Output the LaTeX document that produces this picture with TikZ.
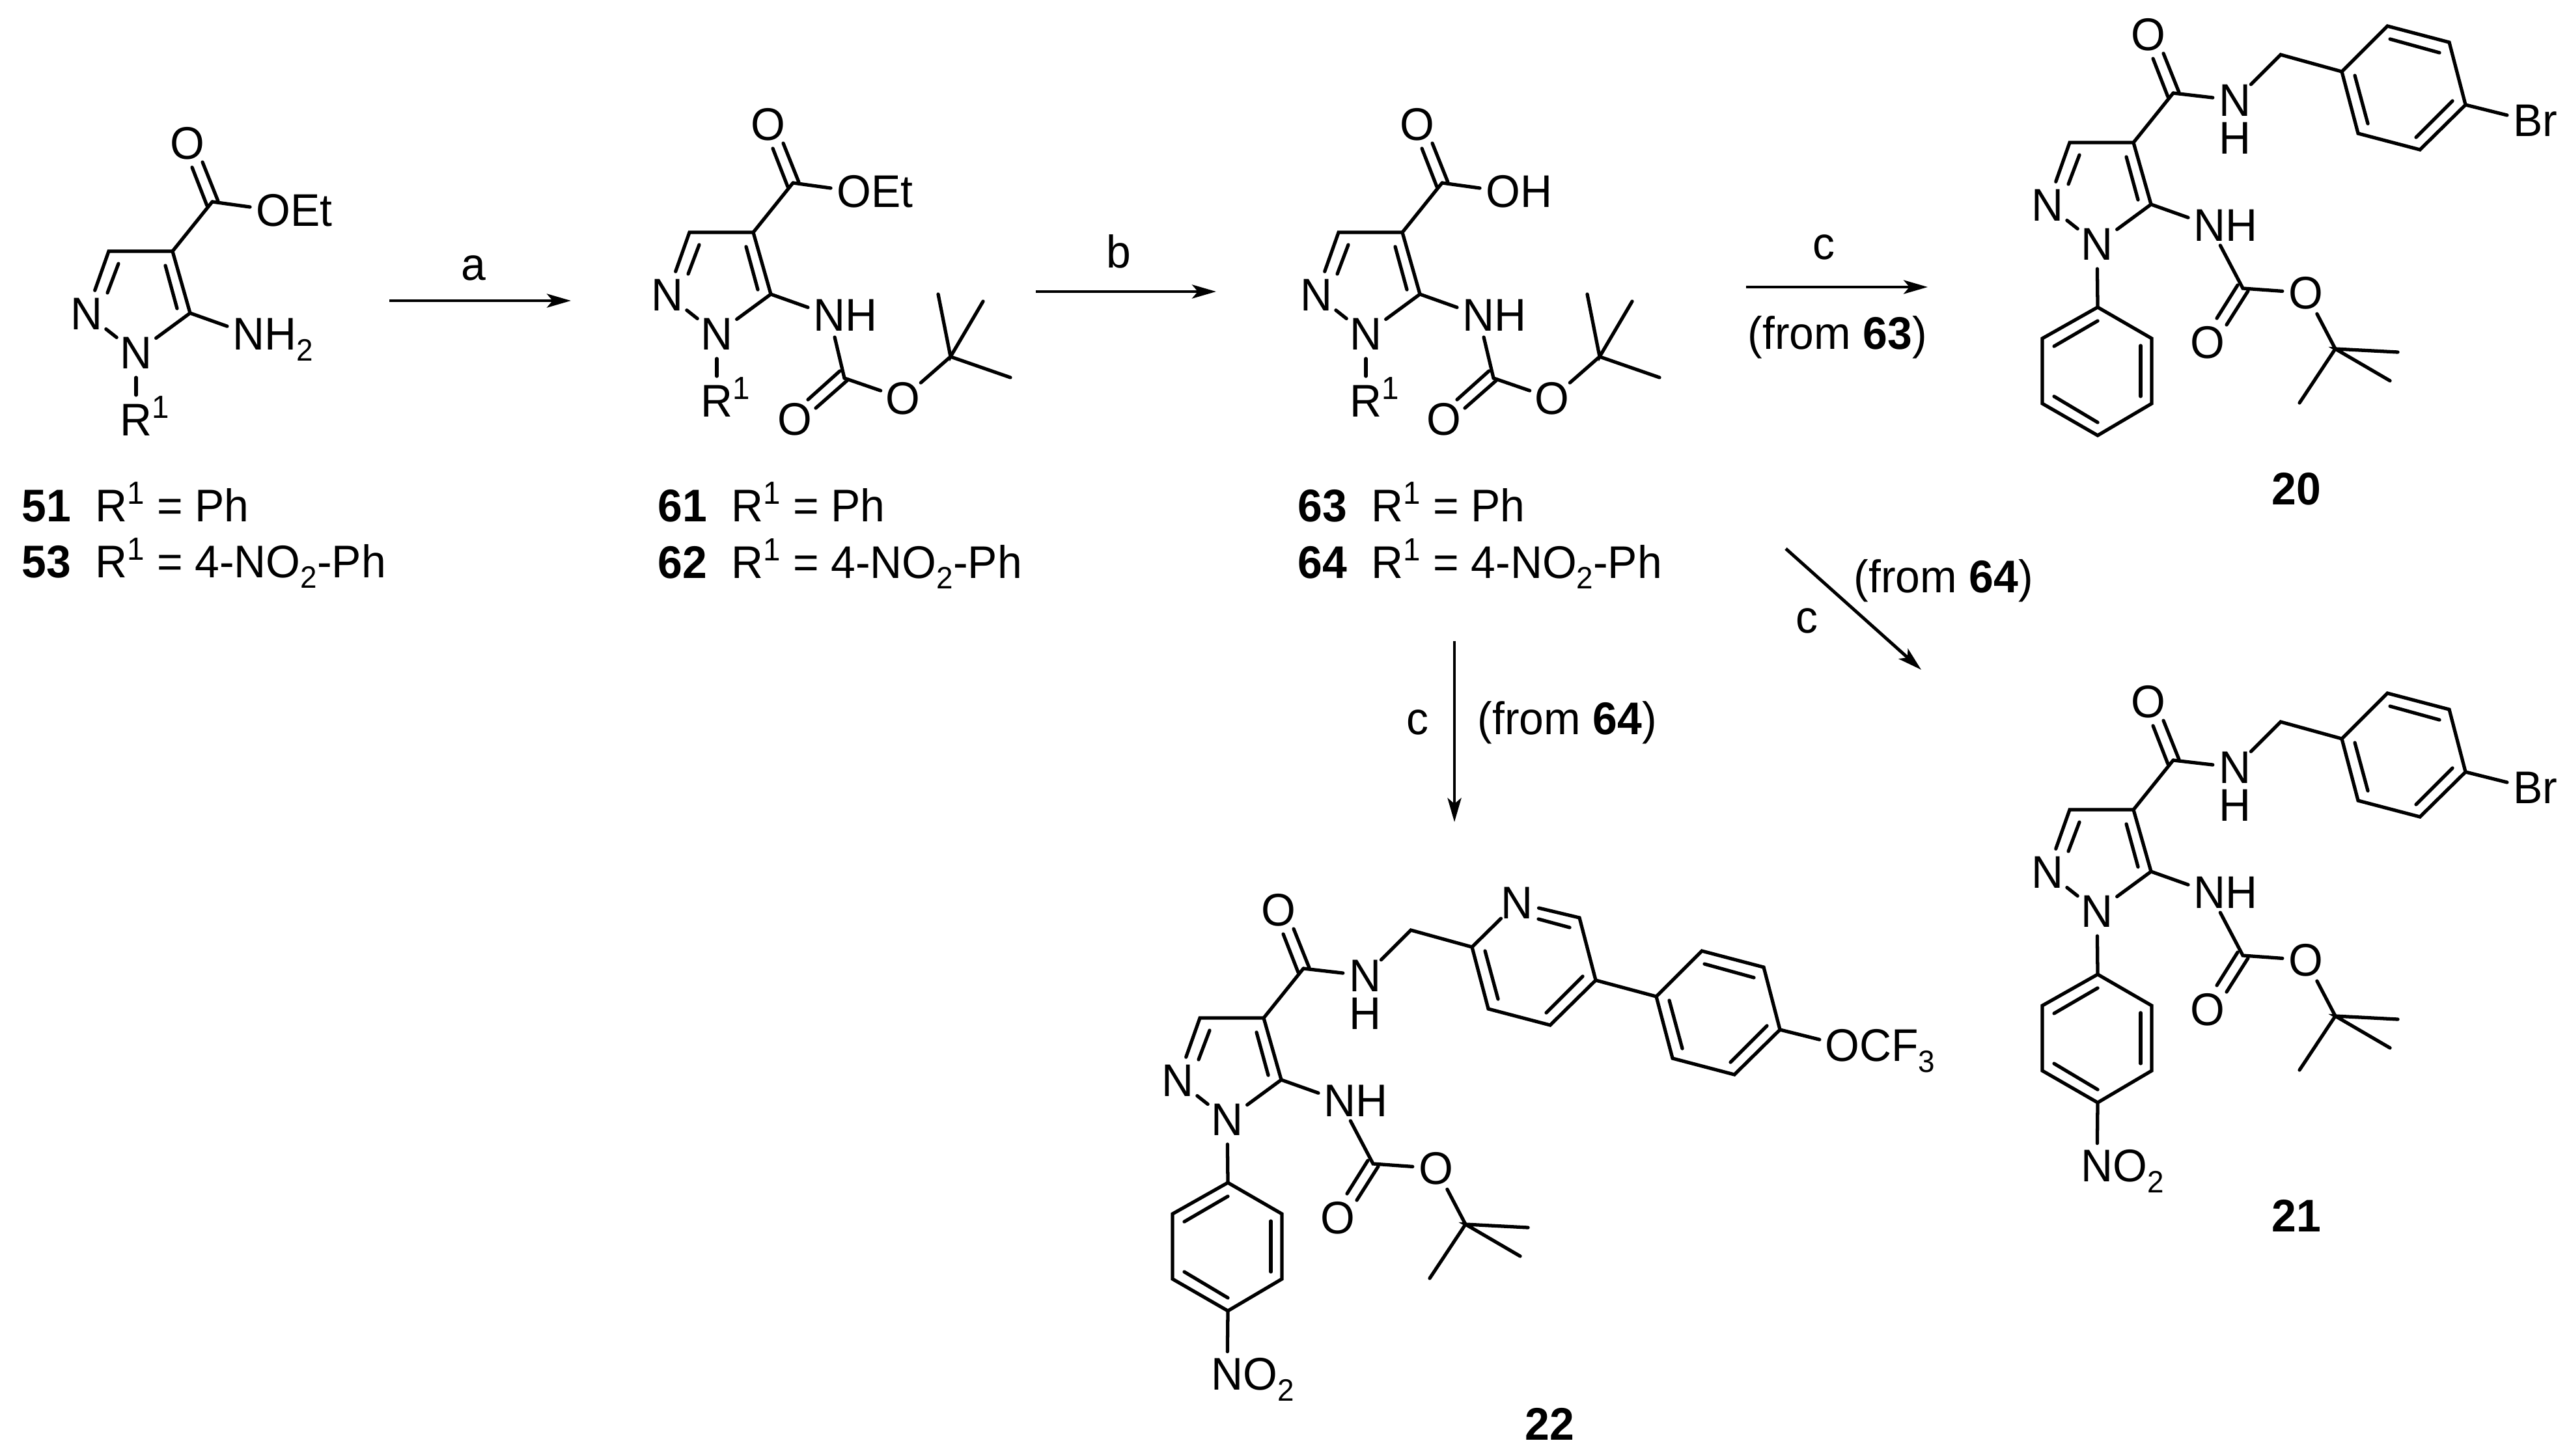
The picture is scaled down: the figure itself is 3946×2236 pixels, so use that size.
\documentclass[tikz,border=0pt]{standalone}
\usepackage{fontspec}
\setmainfont[FakeStretch=0.965]{Liberation Sans}
\usetikzlibrary{arrows.meta}
\newcommand\Sp[1]{\raisebox{7.5pt}{\fontsize{14}{14}\selectfont #1}}
\newcommand\Sb[1]{\raisebox{-4.8pt}{\fontsize{13.5}{13.5}\selectfont #1}}
\newcommand\Lead[2]{\sbox0{#1}\makebox[\wd0][l]{\vphantom{#1}\smash{#1#2}}}
\tikzset{
  bond/.style={line width=1.5pt,line cap=round,line join=miter},
  atom/.style={circle,inner sep=0pt,outer sep=0pt,minimum size=.76cm,font=\fontsize{20}{20}\selectfont},
  near/.style={atom,minimum size=.64cm},
  lab/.style={anchor=base west,inner sep=0pt,font=\fontsize{20}{20}\selectfont},
  cond/.style={anchor=base,inner sep=0pt,font=\fontsize{20}{20}\selectfont},
  rxn/.style={line width=1.4pt,-{Stealth[length=10.5pt,width=6pt,inset=2.5pt]}},
}
% pyrazole with ester/acid carbon
\newcommand\Pyz{%
  \coordinate (c3) at (167,386);
  \coordinate (c4) at (265,386);
  \coordinate (c5) at (292,481);
  \coordinate (cc) at (326,310);
  \node[atom] (n2) at (133,482) {N};
  \node[atom] (n1) at (209,542) {N};
  \node[atom] (ox) at (288,220) {O};
  \draw[bond] (n2)--(c3)--(c4)--(c5)--(n1)--(n2);
  \draw[bond] (c4)--(cc);
  \draw[bond] (182,405)--(165,450);
  \draw[bond] (254,408)--(272,474);
  \draw[bond] (295,257)--(318,316);
  \draw[bond] (311,249)--(335,309);
}
\newcommand\Rone{%
  \node[atom] (r1) at (209,645) {\Lead{R}{\Sp{1}}};
  \draw[bond] (n1)--(r1);
}
\newcommand\Ester[1]{%
  \node[near] (oe) at (420,323) {\Lead{O}{#1}};
  \draw[bond] (cc)--(oe);
}
\newcommand\Amine[1]{%
  \node[atom,minimum size=.70cm] (nh) at (382,513) {\Lead{N}{#1}};
  \draw[bond] (c5)--(nh);
}
\newcommand\BocA{%
  \coordinate (bc) at (405,610);
  \coordinate (tb) at (568,577);
  \coordinate (m1) at (549,481);
  \coordinate (m2) at (618,492);
  \coordinate (m3) at (660,609);
  \node[atom,minimum size=.72cm] (bo1) at (329,673) {O};
  \node[atom,minimum size=.72cm] (bo2) at (495,641) {O};
  \draw[bond] (nh)--(bc)--(bo2)--(tb);
  \draw[bond] (m1)--(tb)--(m2);
  \draw[bond] (tb)--(m3);
  \draw[bond] (349,643)--(398,599);
  \draw[bond] (361,656)--(411,612);
}
\newcommand\BocB{%
  \coordinate (bc) at (433,610);
  \coordinate (tb) at (575,703);
  \coordinate (m1) at (671,708);
  \coordinate (m2) at (659,752);
  \coordinate (m3) at (520,786);
  \node[atom,minimum size=.72cm] (bo1) at (379,693) {O};
  \node[atom,minimum size=.72cm] (bo2) at (530,617) {O};
  \draw[bond] (nh)--(bc)--(bo2)--(tb);
  \draw[bond] (m1)--(tb)--(m2);
  \draw[bond] (tb)--(m3);
  \draw[bond] (425,605)--(393,656);
  \draw[bond] (441,614)--(408,666);
}
\newcommand\ArN{%
  \coordinate (a1) at (210,639);
  \coordinate (a2) at (293,687);
  \coordinate (a3) at (293,787);
  \coordinate (a4) at (210,836);
  \coordinate (a5) at (125,787);
  \coordinate (a6) at (125,687);
  \draw[bond] (n1)--(a1);
  \draw[bond] (a1)--(a2)--(a3)--(a4)--(a5)--(a6)--cycle;
  \draw[bond] (210,660)--(143,699);
  \draw[bond] (276,698)--(276,776);
  \draw[bond] (210,816)--(143,776);
}
\newcommand\Nitro{%
  \node[near] (no) at (209,933) {\Lead{N}{O\Sb{2}}};
  \draw[bond] (a4)--(no);
}
\newcommand\Amide{%
  \node[atom,minimum size=.66cm] (am) at (421,321) {N};
  \node[atom,minimum size=.40cm] (amh) at (421,379) {H};
  \coordinate (ch) at (491,251);
  \coordinate (h1) at (585,277);
  \draw[bond] (cc)--(am)--(ch)--(h1);
}
\newcommand\Hexa{%
  \coordinate (h1) at (585,277);
  \coordinate (h2) at (655,207);
  \coordinate (h3) at (750,232);
  \coordinate (h4) at (775,328);
  \coordinate (h5) at (705,397);
  \coordinate (h6) at (610,372);
  \draw[bond] (h1)--(h2)--(h3)--(h4)--(h5)--(h6)--cycle;
  \draw[bond] (659,227)--(735,248);
  \draw[bond] (605,283)--(625,357);
  \draw[bond] (755,322)--(699,378);
}
\newcommand\Hbr[1]{%
  \node[atom,minimum size=.66cm] (xs) at (871,352) {#1};
  \draw[bond] (h4)--(xs);
}
\begin{document}
\begin{tikzpicture}[x=0.01cm,y=-0.01cm]
\useasboundingbox (0,0) rectangle (3946,2236);
% 51
\begin{scope}[name prefix=m51-]
  \Pyz \Rone \Ester{Et} \Amine{H\Sb{2}}
\end{scope}
% 61
\begin{scope}[shift={(892,-29)},name prefix=m61-]
  \Pyz \Rone \Ester{Et} \Amine{H} \BocA
\end{scope}
% 63
\begin{scope}[shift={(1889,-29)},name prefix=m63-]
  \Pyz \Rone \Ester{H} \Amine{H} \BocA
\end{scope}
% 20
\begin{scope}[shift={(3012,-167)},name prefix=m20-]
  \Pyz \Amine{H} \BocB \ArN \Amide \Hexa \Hbr{\Lead{B}{r}}
\end{scope}
% 21
\begin{scope}[shift={(3012,858)},name prefix=m21-]
  \Pyz \Amine{H} \BocB \ArN \Nitro \Amide \Hexa \Hbr{\Lead{B}{r}}
\end{scope}
% 22
\begin{scope}[shift={(1676,1178)},name prefix=m22-]
  \Pyz \Amine{H} \BocB \ArN \Nitro \Amide
  \coordinate (p3) at (750,232);
  \coordinate (p4) at (775,328);
  \coordinate (p5) at (705,397);
  \coordinate (p6) at (610,372);
  \node[atom,minimum size=.68cm] (pn) at (654,209) {N};
  \draw[bond] (h1)--(pn)--(p3)--(p4)--(p5)--(p6)--(h1);
  \draw[bond] (687,234)--(735,247);
  \draw[bond] (605,283)--(625,357);
  \draw[bond] (755,322)--(699,378);
\end{scope}
\begin{scope}[shift={(1959,1254)},name prefix=m22b-]
  \Hexa \Hbr{\Lead{O}{CF\Sb{3}}}
\end{scope}
\draw[bond] (m22-p4)--(m22b-h1);
% labels
\node[lab] (l51) at (33,801) {\textbf{51}~~R\Sp{1} = Ph};
\node[lab] (l53) at (33,887) {\textbf{53}~~R\Sp{1} = 4-NO\Sb{2}-Ph};
\node[lab] (l61) at (1010,801) {\textbf{61}~~R\Sp{1} = Ph};
\node[lab] (l62) at (1010,888) {\textbf{62}~~R\Sp{1} = 4-NO\Sb{2}-Ph};
\node[lab] (l63) at (1993,801) {\textbf{63}~~R\Sp{1} = Ph};
\node[lab] (l64) at (1993,888) {\textbf{64}~~R\Sp{1} = 4-NO\Sb{2}-Ph};
\node[lab] (l20) at (3489,775) {\textbf{20}};
\node[lab] (l21) at (3489,1892) {\textbf{21}};
\node[lab] (l22) at (2342,2212) {\textbf{22}};
% arrows
\coordinate (aS) at (598,462);  \coordinate (aE) at (877,462);
\coordinate (bS) at (1591,448); \coordinate (bE) at (1868,448);
\coordinate (cS) at (2682,441); \coordinate (cE) at (2961,441);
\coordinate (dS) at (2743,843); \coordinate (dE) at (2951,1029);
\coordinate (eS) at (2234,985); \coordinate (eE) at (2234,1263);
\draw[rxn] (aS)--(aE);
\draw[rxn] (bS)--(bE);
\draw[rxn] (cS)--(cE);
\draw[rxn] (dS)--(dE);
\draw[rxn] (eS)--(eE);
\node[cond] (ta) at (727,430) {a};
\node[cond] (tb) at (1718,411) {b};
\node[cond] (tc) at (2801,398) {c};
\node[lab] (tf63) at (2684,536) {(from \textbf{63})};
\node[cond] (td) at (2775,972) {c};
\node[lab] (tf64a) at (2847,910) {(from \textbf{64})};
\node[cond] (te) at (2177,1128) {c};
\node[lab] (tf64b) at (2269,1128) {(from \textbf{64})};
\end{tikzpicture}
\end{document}
